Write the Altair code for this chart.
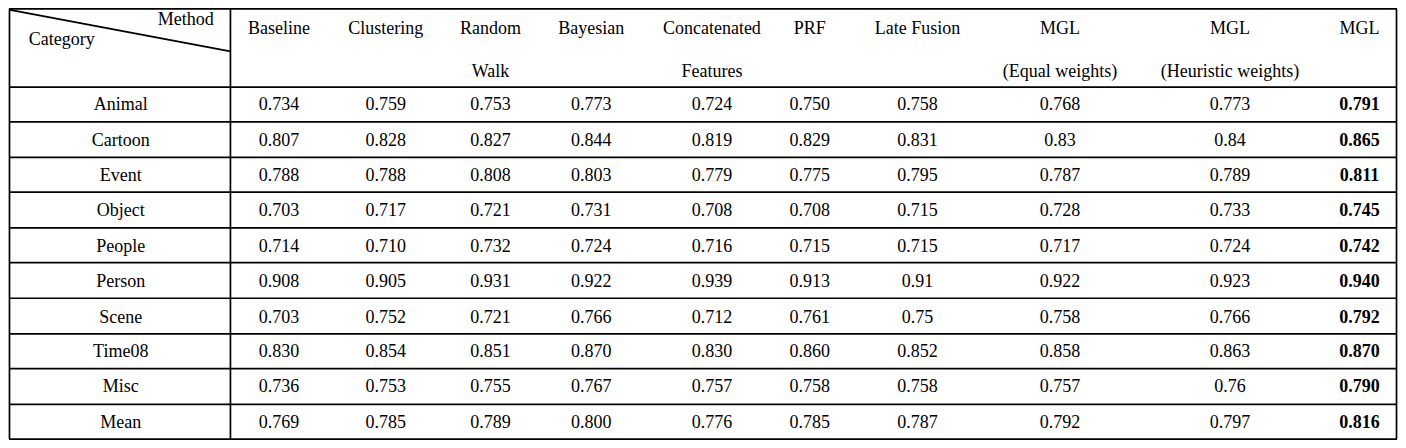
import altair as alt
import pandas as pd

# ---- table content ----
categories = ["Animal", "Cartoon", "Event", "Object", "People", "Person",
              "Scene", "Time08", "Misc", "Mean"]
header_line1 = ["Baseline", "Clustering", "Random", "Bayesian", "Concatenated",
                "PRF", "Late Fusion", "MGL", "MGL", "MGL"]
header_line2 = ["", "", "Walk", "", "Features", "", "", "(Equal weights)",
                "(Heuristic weights)", ""]
baseline = ["0.734", "0.807", "0.788", "0.703", "0.714", "0.908", "0.703", "0.830", "0.736", "0.769"]
clustering = ["0.759", "0.828", "0.788", "0.717", "0.710", "0.905", "0.752", "0.854", "0.753", "0.785"]
random_walk = ["0.753", "0.827", "0.808", "0.721", "0.732", "0.931", "0.721", "0.851", "0.755", "0.789"]
bayesian = ["0.773", "0.844", "0.803", "0.731", "0.724", "0.922", "0.766", "0.870", "0.767", "0.800"]
concatenated = ["0.724", "0.819", "0.779", "0.708", "0.716", "0.939", "0.712", "0.830", "0.757", "0.776"]
prf = ["0.750", "0.829", "0.775", "0.708", "0.715", "0.913", "0.761", "0.860", "0.758", "0.785"]
late_fusion = ["0.758", "0.831", "0.795", "0.715", "0.715", "0.91", "0.75", "0.852", "0.758", "0.787"]
mgl_equal = ["0.768", "0.83", "0.787", "0.728", "0.717", "0.922", "0.758", "0.858", "0.757", "0.792"]
mgl_heuristic = ["0.773", "0.84", "0.789", "0.733", "0.724", "0.923", "0.766", "0.863", "0.76", "0.797"]
mgl = ["0.791", "0.865", "0.811", "0.745", "0.742", "0.940", "0.792", "0.870", "0.790", "0.816"]
columns = [baseline, clustering, random_walk, bayesian, concatenated, prf,
           late_fusion, mgl_equal, mgl_heuristic, mgl]
bold_column = 9

# ---- layout (table grid, in reference pixel units) ----
W, H = 1406, 448
col_centers = [274, 382, 488, 590, 712, 811, 920, 1064, 1236, 1367]
cat_center = 114
row_centers = [101, 137.5, 174, 211, 247.5, 284, 321, 357, 393.5, 430.5]
head_y1, head_y2 = 22, 66
h_lines = [1, 82, 118, 155, 191, 228, 264, 301, 338, 374, 411, 447]
v_lines = [1.5, 225, 1404.5]
FONT = "'Liberation Serif', 'Times New Roman', Times, serif"
FS = 18

# text records
normal, bold = [], []
for r, cat in enumerate(categories):
    normal.append({"x": cat_center, "y": row_centers[r], "t": cat})
for c, vals in enumerate(columns):
    for r, v in enumerate(vals):
        rec = {"x": col_centers[c], "y": row_centers[r], "t": v}
        (bold if c == bold_column else normal).append(rec)
for c in range(len(header_line1)):
    normal.append({"x": col_centers[c], "y": head_y1, "t": header_line1[c]})
    if header_line2[c]:
        normal.append({"x": col_centers[c], "y": head_y2, "t": header_line2[c]})

lines = []
for y in h_lines:
    lines.append({"x": 1, "x2": W - 1, "y": y, "y2": y})
for x in v_lines:
    lines.append({"x": x, "x2": x, "y": 1, "y2": H - 1})
lines.append({"x": 2, "x2": 225, "y": 2, "y2": 45})

xs = alt.Scale(domain=[0, W], nice=False, zero=False)
ys = alt.Scale(domain=[H, 0], nice=False, zero=False)

rules = alt.Chart(pd.DataFrame(lines)).mark_rule(color="black", strokeWidth=1.7).encode(
    x=alt.X("x:Q", scale=xs, axis=None),
    x2="x2:Q",
    y=alt.Y("y:Q", scale=ys, axis=None),
    y2="y2:Q",
)

def text_layer(recs, weight):
    return alt.Chart(pd.DataFrame(recs)).mark_text(
        font=FONT, fontSize=FS, fontWeight=weight, color="black",
        align="center", baseline="middle"
    ).encode(
        x=alt.X("x:Q", scale=xs, axis=None),
        y=alt.Y("y:Q", scale=ys, axis=None),
        text="t:N",
    )

corner = pd.DataFrame([
    {"x": 208, "y": 12, "t": "Method", "a": "right"},
    {"x": 21, "y": 33, "t": "Category", "a": "left"},
])
corner_right = alt.Chart(corner[corner.a == "right"]).mark_text(
    font=FONT, fontSize=FS, color="black", align="right", baseline="middle"
).encode(x=alt.X("x:Q", scale=xs, axis=None), y=alt.Y("y:Q", scale=ys, axis=None), text="t:N")
corner_left = alt.Chart(corner[corner.a == "left"]).mark_text(
    font=FONT, fontSize=FS, color="black", align="left", baseline="middle"
).encode(x=alt.X("x:Q", scale=xs, axis=None), y=alt.Y("y:Q", scale=ys, axis=None), text="t:N")

chart = alt.layer(
    rules, text_layer(normal, "normal"), text_layer(bold, "bold"), corner_right, corner_left
).properties(
    width=1390, height=432, padding=0,
    autosize=alt.AutoSizeParams(type="fit", contains="padding"),
    background="white",
).configure_view(stroke=None)

chart.save("out.html", embed_options={"renderer": "svg", "actions": False})
